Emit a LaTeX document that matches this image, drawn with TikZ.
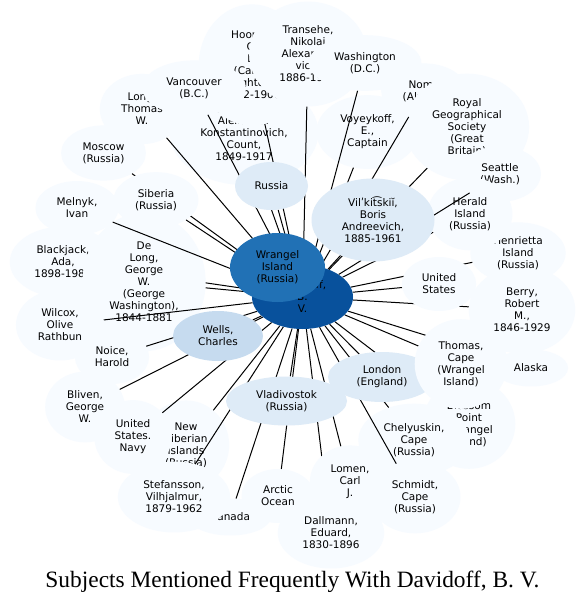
\documentclass[tikz,border=0pt]{standalone}
\usepackage{fontspec}
\usepackage{tikz}
\usetikzlibrary{shapes.geometric}
\newfontfamily\nodefont{DejaVu Sans}
\newfontfamily\titlefont{Liberation Serif}
\definecolor{bpale}{HTML}{F7FBFF}
\definecolor{blite}{HTML}{DEEBF7}
\definecolor{bmid}{HTML}{C6DBEF}
\definecolor{bwrang}{HTML}{2171B5}
\definecolor{bdark}{HTML}{08519C}
\pgfdeclarelayer{bg}
\pgfdeclarelayer{hid}
\pgfdeclarelayer{cov}
\pgfdeclarelayer{edg}
\pgfsetlayers{bg,hid,cov,edg,main}

\begin{document}
\begin{tikzpicture}[x=1pt,y=-1pt,
  pn/.style={ellipse,fill=bpale,inner sep=9pt,align=center,
             font=\nodefont\fontsize{10.5}{12}\selectfont},
  cn/.style={ellipse,inner sep=0pt,align=center,
             font=\nodefont\fontsize{10.5}{12}\selectfont},
  ed/.style={draw=black,line width=1pt}
]
\useasboundingbox (0,0) rectangle (587,603);

% pale subjects, under the lines
\begin{pgfonlayer}{bg}
\fill[white] (0,0) rectangle (587,603);
\node[pn] (bj) at (63,262) {Blackjack,\\Ada,\\1898-1983};
\node[pn] (mo) at (103.5,153) {Moscow\\(Russia)};
\node[pn] (be) at (522,310) {Berry,\\Robert\\M.,\\1846-1929};
\node[pn,inner ysep=5pt] (he) at (518,253) {Henrietta\\Island\\(Russia)};
\node[pn] (al) at (531,368) {Alaska};
\node[pn] (bp) at (469,424) {Blossom\\Point\\(Wrangel\\Island)};
\node[pn] (bk) at (244,132.5) {Benckendorff,\\Aleksandr\\Konstantinovich,\\Count,\\1849-1917};
\node[pn] (hp) at (252,65) {Hooper,\\C.\\L.\\(Calvin\\Leighton),\\1842-1900};
\node[pn] (lt) at (142,109) {Long,\\Thomas\\W.};
\node[pn] (vc) at (194,88) {Vancouver\\(B.C.)};
\node[pn,inner xsep=13pt] (tr) at (308,54) {Transehe,\\Nikolai\\Alexandro\\vich,\\1886-1969};
\node[pn] (wa) at (365,63) {Washington\\(D.C.)};
\node[pn] (nm) at (424,91) {Nome\\(Alaska)};
\node[pn] (rg) at (467,127) {Royal\\Geographical\\Society\\(Great\\Britain)};
\node[pn] (vo) at (367.5,132) {Voyeykoff,\\E.,\\Captain};
\node[pn] (se) at (500,174) {Seattle\\(Wash.)};
\node[pn] (hr) at (470,214) {Herald\\Island\\(Russia)};
\node[pn] (mn) at (77,208) {Melnyk,\\Ivan};
\node[pn] (bv) at (85,407) {Bliven,\\George\\W.};
\node[pn] (ns) at (186,445) {New\\Siberian\\Islands\\(Russia)};
\node[pn] (nv) at (133,437) {United\\States.\\Navy};
\node[pn] (cd) at (230,517) {Canada};
\node[pn] (sf) at (174,497) {Stefansson,\\Vilhjalmur,\\1879-1962};
\node[pn] (ao) at (278,496) {Arctic\\Ocean};
\node[pn] (sc) at (415,497) {Schmidt,\\Cape\\(Russia)};
\end{pgfonlayer}

% pale subjects that cover some lines
\begin{pgfonlayer}{cov}
\node[pn] (dl) at (144,282) {De\\Long,\\George\\W.\\(George\\Washington),\\1844-1881};
\node[pn] (no) at (112,357) {Noice,\\Harold};
\node[pn] (wc) at (60,325) {Wilcox,\\Olive\\Rathbun};
\node[pn] (sb) at (156,200) {Siberia\\(Russia)};
\node[pn] (us) at (439,284) {United\\States};
\node[pn] (ch) at (414,440) {Chelyuskin,\\Cape\\(Russia)};
\node[pn] (lm) at (350,482) {Lomen,\\Carl\\J.};
\node[pn] (da) at (331,533) {Dallmann,\\Eduard,\\1830-1896};
\end{pgfonlayer}

% frequent subjects
\node[cn,fill=blite,minimum width=73,minimum height=48] (ru) at (271.5,186) {Russia};
\node[cn,fill=blite,minimum width=123,minimum height=83] (vk) at (373,220)
  {Vilʹkit͡skiĭ,\\Boris\\Andreevich,\\1885-1961};
\node[cn,fill=bmid,minimum width=90,minimum height=50] (wl) at (218,336) {Wells,\\Charles};
\node[cn,fill=blite,minimum width=121,minimum height=49] (vl) at (286.5,401) {Vladivostok\\(Russia)};
\node[cn,fill=blite,minimum width=108,minimum height=50] (ld) at (382,377) {London\\(England)};
\node[pn] (th) at (461,364) {Thomas,\\Cape\\(Wrangel\\Island)};
\node[cn,fill=bdark,minimum width=101,minimum height=64] (dv) at (302.5,297) {Davidoff,\\B.\\V.};
\node[cn,fill=bwrang,minimum width=95,minimum height=69] (wi) at (277.5,267.5) {Wrangel\\Island\\(Russia)};

\begin{pgfonlayer}{hid}
\foreach \n in {bj,mo,he,be,al,bp,da}
  {\draw[ed] (dv) -- (\n);}
\end{pgfonlayer}
\begin{pgfonlayer}{edg}
\foreach \n in {bk,hp,lt,vc,tr,wa,nm,rg,vo,se,hr,mn,ns,nv,bv,cd,sf,ao,sc,
                dl,no,wc,sb,us,ch,lm,ru,vk,wl,vl,ld,th}
  {\draw[ed] (dv) -- (\n);}
\end{pgfonlayer}

\node[font=\titlefont\fontsize{23.4}{27}\selectfont,anchor=base] (ttl) at (292.5,587)
  {Subjects Mentioned Frequently With Davidoff, B. V.};
\end{tikzpicture}
\end{document}
